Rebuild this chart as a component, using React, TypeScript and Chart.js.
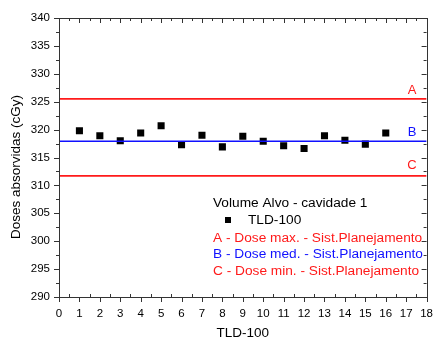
import React, { useEffect, useRef } from "react";
import { Chart, registerables } from "chart.js";

Chart.register(...registerables);

const positions = [1, 2, 3, 4, 5, 6, 7, 8, 9, 10, 11, 12, 13, 14, 15, 16];
const tldDoses = [319.8, 318.9, 318.0, 319.4, 320.7, 317.3, 319.0, 316.9, 318.8, 317.9, 317.1, 316.6, 318.9, 318.1, 317.4, 319.4];
const lineX = [0, 18];
const doseMax = 325.5;
const doseMed = 317.9;
const doseMin = 311.7;
const xTicks = [0, 1, 2, 3, 4, 5, 6, 7, 8, 9, 10, 11, 12, 13, 14, 15, 16, 17, 18];
const yTicks = [290, 295, 300, 305, 310, 315, 320, 325, 330, 335, 340];
const lineLabels = ["A", "B", "C"];
const legendTitle = "Volume Alvo - cavidade 1";
const seriesName = "TLD-100";
const legendLines = [
  "A - Dose max. - Sist.Planejamento",
  "B - Dose med. - Sist.Planejamento",
  "C - Dose min. - Sist.Planejamento",
];
const xTitle = "TLD-100";
const yTitle = "Doses absorvidas (cGy)";

const RED = "#ff1a1a";
const BLUE = "#1010ff";
const FONT = "'Liberation Sans', Arial, sans-serif";

const framePlugin = {
  id: "frame",
  afterDraw(chart: any) {
    const { ctx, chartArea: a, scales } = chart;
    const xs = scales.x;
    const ys = scales.y;
    ctx.save();
    ctx.strokeStyle = "#333";
    ctx.lineWidth = 1;
    ctx.beginPath();
    ctx.rect(Math.round(a.left) + 0.5, Math.round(a.top) + 0.5, Math.round(a.right - a.left), Math.round(a.bottom - a.top));
    ctx.stroke();
    ctx.beginPath();
    for (let v = 0; v <= 18; v += 0.5) {
      const px = Math.round(xs.getPixelForValue(v)) + 0.5;
      const major = Number.isInteger(v);
      const len = major ? 5 : 3;
      ctx.moveTo(px, a.bottom);
      ctx.lineTo(px, a.bottom + (major ? len : -len));
      ctx.moveTo(px, a.top);
      ctx.lineTo(px, a.top + len);
    }
    for (let v = 290; v <= 340; v += 2.5) {
      const py = Math.round(ys.getPixelForValue(v)) + 0.5;
      const major = v % 5 === 0;
      const len = major ? 5 : 3;
      ctx.moveTo(a.left, py);
      ctx.lineTo(a.left - len, py);
      ctx.moveTo(a.right, py);
      ctx.lineTo(a.right - len, py);
    }
    ctx.stroke();

    ctx.font = `13px ${FONT}`;
    ctx.textAlign = "center";
    ctx.textBaseline = "middle";
    const lx = 412;
    ctx.fillStyle = RED;
    ctx.fillText(lineLabels[0], lx, ys.getPixelForValue(doseMax) - 8.5);
    ctx.fillStyle = BLUE;
    ctx.fillText(lineLabels[1], lx, ys.getPixelForValue(doseMed) - 9);
    ctx.fillStyle = RED;
    ctx.fillText(lineLabels[2], lx, ys.getPixelForValue(doseMin) - 10);

    ctx.textAlign = "left";
    ctx.font = `13.7px ${FONT}`;
    const lx0 = 213;
    ctx.fillStyle = "#000";
    ctx.fillText(legendTitle, lx0, 203.5);
    ctx.fillRect(225, 217, 6, 6);
    ctx.fillText(seriesName, 248, 220.5);
    const cols = [RED, BLUE, RED];
    legendLines.forEach((t, i) => {
      ctx.fillStyle = cols[i];
      ctx.fillText(t, lx0, 238 + i * 16.5);
    });

    ctx.fillStyle = "#000";
    ctx.textAlign = "center";
    ctx.font = `13.5px ${FONT}`;
    ctx.fillText(xTitle, (a.left + a.right) / 2, 333);
    ctx.save();
    ctx.translate(16, 167);
    ctx.rotate(-Math.PI / 2);
    ctx.fillText(yTitle, 0, 0);
    ctx.restore();
    ctx.restore();
  },
};

export default function App() {
  const ref = useRef<HTMLCanvasElement>(null);
  useEffect(() => {
    document.body.style.margin = "0";
    const hline = (v: number) => lineX.map((x) => ({ x, y: v }));
    const chart = new Chart(ref.current!, {
      type: "scatter",
      data: {
        datasets: [
          { label: "A", data: hline(doseMax), showLine: true, borderColor: RED, borderWidth: 1.6, pointRadius: 0 },
          { label: "B", data: hline(doseMed), showLine: true, borderColor: BLUE, borderWidth: 1.6, pointRadius: 0 },
          { label: "C", data: hline(doseMin), showLine: true, borderColor: RED, borderWidth: 1.6, pointRadius: 0 },
          {
            label: seriesName,
            data: positions.map((x, i) => ({ x, y: tldDoses[i] })),
            pointStyle: "rect",
            pointRadius: 5,
            backgroundColor: "#000",
            borderColor: "#000",
            borderWidth: 0,
          },
        ],
      },
      options: {
        animation: false,
        responsive: false,
        devicePixelRatio: 1,
        layout: { padding: { top: 18, right: 7, left: 0, bottom: 0 } },
        plugins: { legend: { display: false }, tooltip: { enabled: false } },
        scales: {
          x: {
            type: "linear",
            min: 0,
            max: 18,
            afterBuildTicks: (s: any) => {
              s.ticks = xTicks.map((v) => ({ value: v }));
            },
            afterFit: (s: any) => {
              s.height = 41;
            },
            grid: { display: false, drawTicks: false },
            border: { display: false },
            ticks: { color: "#000", font: { family: FONT, size: 11.5 }, padding: 10, maxRotation: 0, autoSkip: false },
          },
          y: {
            type: "linear",
            min: 290,
            max: 340,
            afterBuildTicks: (s: any) => {
              s.ticks = yTicks.map((v) => ({ value: v }));
            },
            afterFit: (s: any) => {
              s.width = 59;
            },
            grid: { display: false, drawTicks: false },
            border: { display: false },
            ticks: { color: "#000", font: { family: FONT, size: 11.5 }, padding: 9 },
          },
        },
      },
      plugins: [framePlugin],
    });
    return () => chart.destroy();
  }, []);
  return (
    <div style={{ width: 443, height: 338, background: "#fff" }}>
      <canvas ref={ref} width={443} height={338} />
    </div>
  );
}
